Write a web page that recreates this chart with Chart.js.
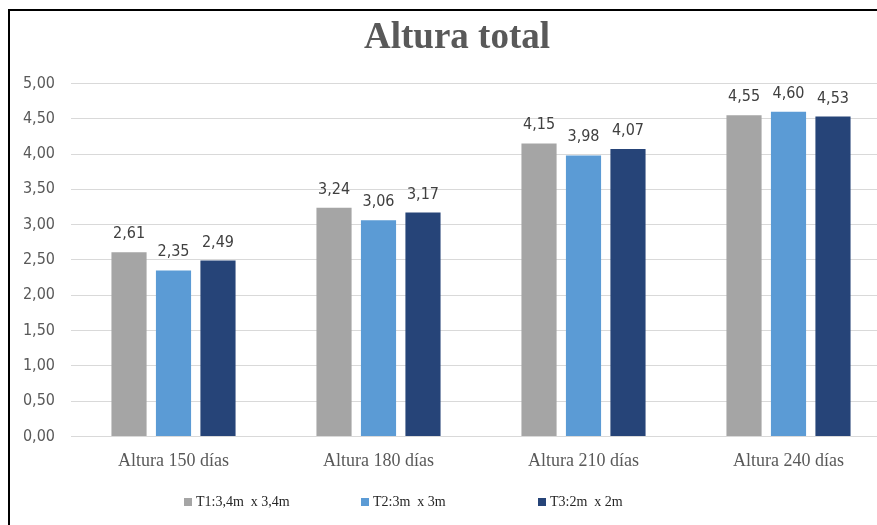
<!DOCTYPE html>
<html>
<head>
<meta charset="utf-8">
<script src="https://cdn.jsdelivr.net/npm/chart.js@4.4.1/dist/chart.umd.min.js"></script>
<style>
  html, body { margin: 0; padding: 0; background: #fff; overflow: hidden; width: 877px; height: 525px; }
  #frame { position: absolute; left: 8px; top: 9px; width: 900px; height: 530px; border-left: 2px solid #000; border-top: 2px solid #000; }
  #wrap { position: absolute; left: 9px; top: 10px; width: 896px; height: 515px; }
  #legend { position: absolute; left: 184px; top: 492px; height: 20px; display: flex; font-family: "Liberation Serif", "Times New Roman", serif; font-size: 14px; color: #262626; }
  .item { width: 177px; display: flex; align-items: center; white-space: pre; }
  .sw { width: 8px; height: 8px; margin-right: 4px; display: inline-block; }
</style>
</head>
<body>
<div id="frame"></div>
<div id="wrap"><canvas id="c" width="896" height="515"></canvas></div>
<div id="legend"></div>
<script>
const categories = ["Altura 150 días", "Altura 180 días", "Altura 210 días", "Altura 240 días"];
const seriesNames = ["T1:3,4m  x 3,4m", "T2:3m  x 3m", "T3:2m  x 2m"];
const t1Values = [2.61, 3.24, 4.15, 4.55];
const t2Values = [2.35, 3.06, 3.98, 4.60];
const t3Values = [2.49, 3.17, 4.07, 4.53];
const seriesColors = ["#A5A5A5", "#5B9BD5", "#264478"];
const titleText = "Altura total";

const fmt = v => v.toFixed(2).replace('.', ',');

const dataLabels = {
  id: 'dataLabels',
  afterDatasetsDraw(chart) {
    const ctx = chart.ctx;
    ctx.save();
    ctx.font = '16px "DejaVu Sans Condensed", "DejaVu Sans", sans-serif';
    ctx.fillStyle = '#404040';
    ctx.textAlign = 'center';
    ctx.textBaseline = 'alphabetic';
    chart.data.datasets.forEach((ds, i) => {
      const meta = chart.getDatasetMeta(i);
      meta.data.forEach((bar, j) => {
        ctx.fillText(fmt(ds.data[j]), bar.x, bar.y - 14);
      });
    });
    ctx.restore();
  }
};

const datasets = [t1Values, t2Values, t3Values].map((vals, i) => ({
  label: seriesNames[i],
  data: vals,
  backgroundColor: seriesColors[i],
  borderWidth: 0,
  categoryPercentage: 0.651,
  barPercentage: 0.79
}));

new Chart(document.getElementById('c'), {
  type: 'bar',
  data: { labels: categories, datasets },
  options: {
    responsive: false,
    animation: false,
    devicePixelRatio: 1,
    layout: { padding: { left: 14, right: 14, top: 0, bottom: 39 } },
    plugins: {
      legend: { display: false },
      tooltip: { enabled: false },
      title: {
        display: true,
        text: titleText,
        color: '#595959',
        font: { family: '"Liberation Serif", "Times New Roman", serif', size: 37, weight: 'bold' },
        padding: { top: 6, bottom: 23 }
      }
    },
    scales: {
      x: {
        grid: { display: false, drawTicks: false },
        border: { display: false },
        ticks: {
          color: '#595959',
          padding: 14,
          font: { family: '"Liberation Serif", "Times New Roman", serif', size: 18 }
        }
      },
      y: {
        min: 0, max: 5,
        afterFit(scale) { scale.width = 48; },
        grid: { color: '#D9D9D9', lineWidth: 1, drawTicks: false },
        border: { display: false },
        ticks: {
          stepSize: 0.5,
          padding: 16,
          color: '#595959',
          font: { family: '"DejaVu Sans Condensed", "DejaVu Sans", sans-serif', size: 16 },
          callback: v => fmt(v)
        }
      }
    }
  },
  plugins: [dataLabels]
});

const legendEl = document.getElementById('legend');
seriesNames.forEach((name, i) => {
  const item = document.createElement('div');
  item.className = 'item';
  const sw = document.createElement('span');
  sw.className = 'sw';
  sw.style.background = seriesColors[i];
  const tx = document.createElement('span');
  tx.textContent = name;
  item.appendChild(sw);
  item.appendChild(tx);
  legendEl.appendChild(item);
});
</script>
</body>
</html>
